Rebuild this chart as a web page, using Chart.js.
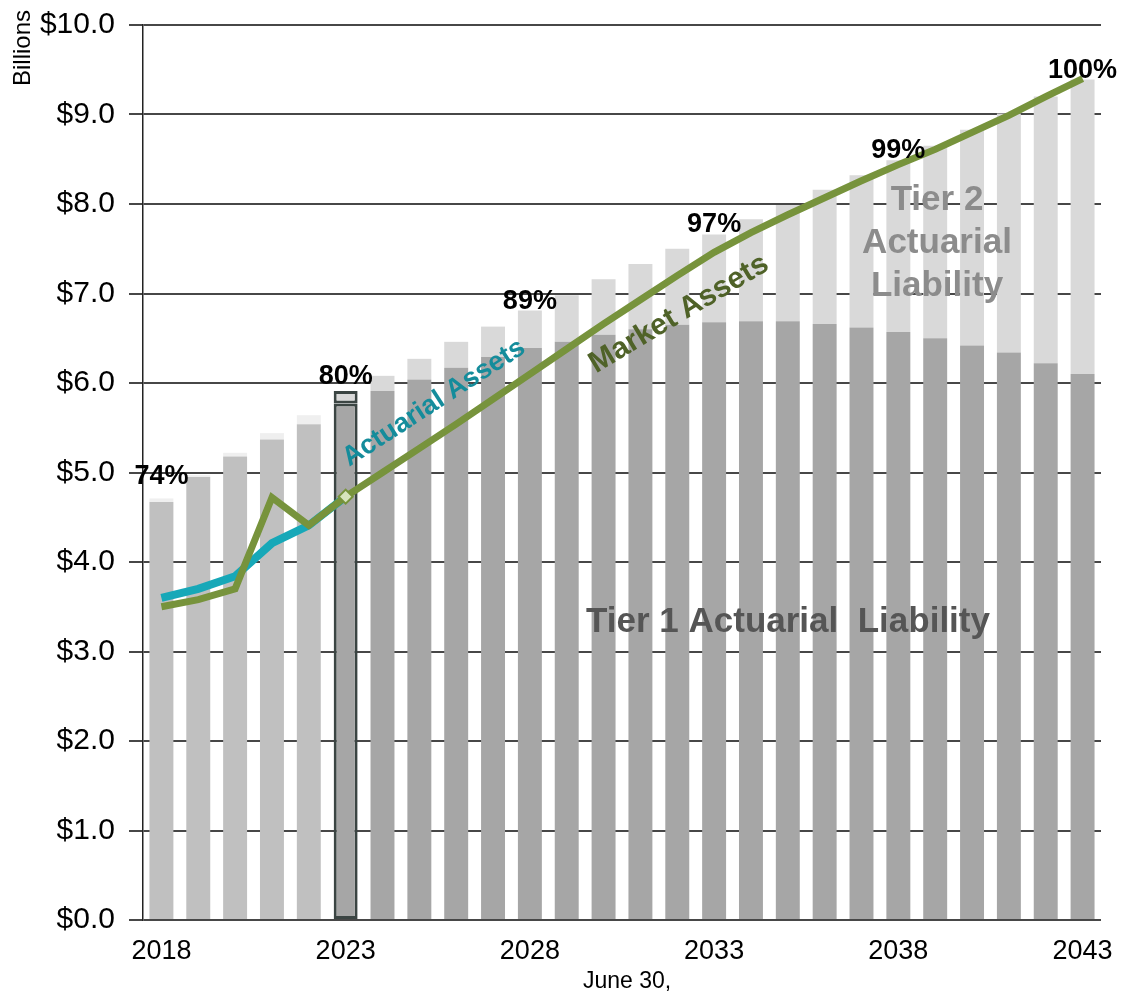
<!DOCTYPE html>
<html>
<head>
<meta charset="utf-8">
<script src="https://cdn.jsdelivr.net/npm/chart.js@4.4.1/dist/chart.umd.min.js"></script>
<style>
  html, body { margin: 0; padding: 0; background: #fff; }
  #wrap { position: relative; width: 1122px; height: 997px; }
</style>
</head>
<body>
<div id="wrap"><canvas id="chart"></canvas></div>
<script>
// Funding projection: liability bars (tier 1 + tier 2) with asset lines
const years = [2018, 2019, 2020, 2021, 2022, 2023, 2024, 2025, 2026, 2027, 2028, 2029, 2030,
  2031, 2032, 2033, 2034, 2035, 2036, 2037, 2038, 2039, 2040, 2041, 2042, 2043];

const tier1Liability = [4.67, 4.95, 5.18, 5.37, 5.54, 5.77, 5.91, 6.04, 6.17, 6.29, 6.39, 6.46, 6.54,
  6.60, 6.65, 6.68, 6.69, 6.69, 6.66, 6.62, 6.57, 6.50, 6.42, 6.34, 6.22, 6.10];

const tier2Liability = [0.04, 0.02, 0.04, 0.07, 0.10, 0.14, 0.17, 0.23, 0.29, 0.34, 0.42, 0.52, 0.62,
  0.73, 0.85, 0.98, 1.14, 1.30, 1.50, 1.70, 1.92, 2.15, 2.41, 2.67, 2.98, 3.29];

const actuarialAssets = [3.60, 3.70, 3.84, 4.21, 4.41, 4.73, null, null, null, null, null, null, null,
  null, null, null, null, null, null, null, null, null, null, null, null, null];

const marketAssets = [3.50, 3.58, 3.70, 4.72, 4.41, 4.73, 5.00, 5.27, 5.54, 5.82, 6.10, 6.38, 6.66,
  6.93, 7.20, 7.46, 7.68, 7.88, 8.07, 8.26, 8.44, 8.61, 8.80, 8.99, 9.20, 9.40];

const fundedYears = [2018, 2023, 2028, 2033, 2038, 2043];
const fundedLabels = ['74%', '80%', '89%', '97%', '99%', '100%'];

const yTicks = [0, 1, 2, 3, 4, 5, 6, 7, 8, 9, 10];
const valuationYear = 2023;

const FONT = "'Liberation Sans', Arial, sans-serif";

const isHistory = years.map(y => y < valuationYear);
const tier1Colors = isHistory.map(h => h ? '#c0c0c0' : '#a6a6a6');
const tier2Colors = isHistory.map(h => h ? '#efefef' : '#d9d9d9');
const highlightWidth = years.map(y => y === valuationYear ? 3 : 0);
const markerRadius = years.map(y => y === valuationYear ? 7 : 0);

const overlayPlugin = {
  id: 'overlay',
  afterDatasetsDraw(chart) {
    const ctx = chart.ctx;
    const topMeta = chart.getDatasetMeta(1);
    ctx.save();

    // funded ratio labels above the bars
    ctx.font = 'bold 27px ' + FONT;
    ctx.fillStyle = '#000';
    ctx.textAlign = 'center';
    ctx.textBaseline = 'alphabetic';
    fundedYears.forEach((yr, i) => {
      const idx = years.indexOf(yr);
      const bar = topMeta.data[idx];
      let lift = 2;
      if (i === 0) lift = 14;
      if (i === 1) lift = 7;
      ctx.fillText(fundedLabels[i], bar.x, bar.y - lift);
    });

    // rotated line labels
    const rotText = (txt, x, y, deg, size, color) => {
      ctx.save();
      ctx.translate(x, y);
      ctx.rotate(-deg * Math.PI / 180);
      ctx.fillStyle = color;
      ctx.font = 'bold ' + size + 'px ' + FONT;
      ctx.textAlign = 'center';
      ctx.textBaseline = 'middle';
      ctx.fillText(txt, 0, 0);
      ctx.restore();
    };
    rotText('Actuarial Assets', 434, 403, 33, 27, '#148c9b');
    rotText('Market Assets', 679, 314, 31, 30, '#4f6228');

    // area labels
    ctx.textAlign = 'center';
    ctx.textBaseline = 'middle';
    ctx.font = 'bold 35px ' + FONT;
    ctx.fillStyle = '#8c8c8c';
    ctx.fillText('Tier 2', 937, 200);
    ctx.fillText('Actuarial', 937, 243);
    ctx.fillText('Liability', 937, 286);
    ctx.fillStyle = '#555555';
    ctx.fillText('Tier 1 Actuarial  Liability', 788, 622);

    // axis captions
    ctx.fillStyle = '#000';
    ctx.font = '23px ' + FONT;
    ctx.fillText('June 30,', 627, 982);
    ctx.save();
    ctx.translate(23, 48);
    ctx.rotate(-Math.PI / 2);
    ctx.font = '24px ' + FONT;
    ctx.fillText('Billions', 0, 0);
    ctx.restore();

    ctx.restore();
  }
};

new Chart(document.getElementById('chart'), {
  type: 'bar',
  data: {
    labels: years.map(String),
    datasets: [
      {
        label: 'Tier 1 Actuarial Liability',
        data: tier1Liability,
        backgroundColor: tier1Colors,
        borderColor: '#3b4543',
        borderWidth: highlightWidth,
        borderSkipped: false,
        stack: 'liab',
        order: 5,
        barPercentage: 0.65,
        categoryPercentage: 1.0
      },
      {
        label: 'Tier 2 Actuarial Liability',
        data: tier2Liability,
        backgroundColor: tier2Colors,
        borderColor: '#3b4543',
        borderWidth: highlightWidth,
        borderSkipped: false,
        stack: 'liab',
        order: 5,
        barPercentage: 0.65,
        categoryPercentage: 1.0
      },
      {
        type: 'line',
        label: 'Actuarial Assets',
        data: actuarialAssets,
        borderColor: '#17a8b8',
        borderWidth: 8,
        pointRadius: 0,
        tension: 0,
        spanGaps: false,
        stack: 'aa',
        order: 1
      },
      {
        type: 'line',
        label: 'Market Assets',
        data: marketAssets,
        borderColor: '#77933c',
        borderWidth: 7,
        borderJoinStyle: 'miter',
        pointStyle: 'rectRot',
        pointRadius: markerRadius,
        pointBackgroundColor: '#d7e4bd',
        pointBorderColor: '#77933c',
        pointBorderWidth: 2,
        tension: 0,
        stack: 'ma',
        order: 0
      }
    ]
  },
  options: {
    responsive: true,
    maintainAspectRatio: false,
    animation: false,
    layout: { padding: { left: 0, right: 21, top: 25, bottom: 0 } },
    plugins: {
      legend: { display: false },
      tooltip: { enabled: false }
    },
    scales: {
      x: {
        stacked: true,
        offset: true,
        grid: { display: false, drawTicks: false },
        border: { display: false },
        ticks: {
          autoSkip: false,
          maxRotation: 0,
          padding: 15,
          color: '#000',
          font: { family: FONT, size: 27 },
          callback: function(value, index) {
            return (years[index] - years[0]) % 5 === 0 ? String(years[index]) : '';
          }
        },
        afterFit: function(axis) {
          axis.height = 77;
          axis.paddingLeft = 0;
          axis.paddingRight = 0;
        }
      },
      y: {
        stacked: true,
        min: 0,
        max: 10,
        afterBuildTicks: function(axis) { axis.ticks = yTicks.map(v => ({ value: v })); },
        grid: { color: '#474747', lineWidth: 2, tickLength: 14 },
        border: { display: true, color: '#222', width: 1.5 },
        ticks: {
          padding: 14,
          color: '#000',
          font: { family: FONT, size: 30 },
          callback: function(value) { return '$' + value.toFixed(1); }
        },
        afterFit: function(axis) {
          axis.width = 143;
          axis.paddingTop = 0;
          axis.paddingBottom = 0;
        }
      }
    }
  },
  plugins: [overlayPlugin]
});
</script>
</body>
</html>
